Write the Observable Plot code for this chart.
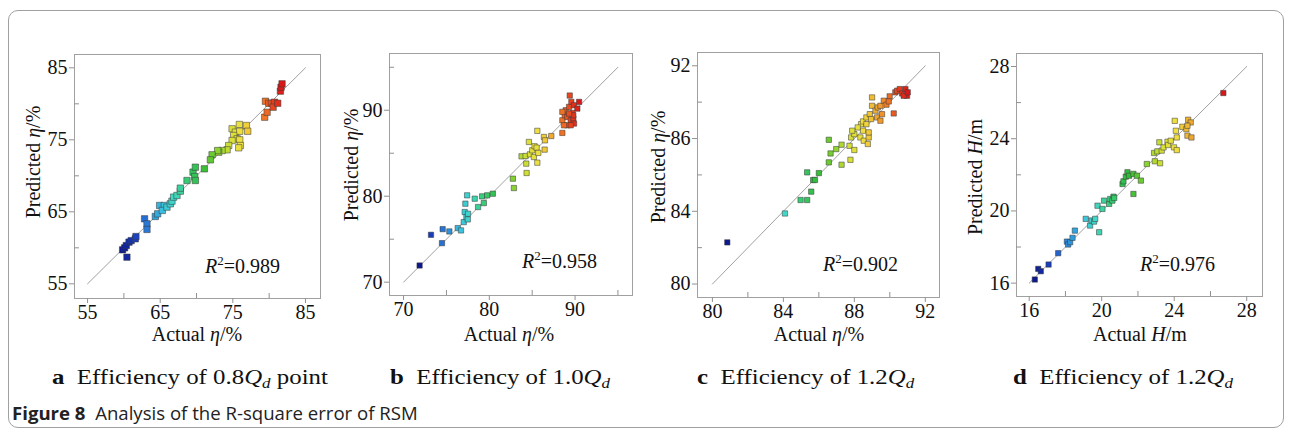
<!DOCTYPE html>
<html><head><meta charset="utf-8">
<script src="https://cdn.jsdelivr.net/npm/d3@7"></script>
<script src="https://cdn.jsdelivr.net/npm/@observablehq/plot@0.6"></script>
<style>
body{margin:0;background:#fff;}
#root{position:relative;width:1292px;height:432px;overflow:hidden;background:#fff;font-family:"Liberation Serif","Times New Roman",serif;}
#border{position:absolute;left:8px;top:10px;width:1276px;height:418px;border:1px solid #a0a0a0;border-radius:10px;box-sizing:border-box;}
.panel{position:absolute;top:30px;}
.sub{position:absolute;top:366px;font-size:22px;line-height:22px;color:#111;white-space:nowrap;transform:scaleX(1.13);transform-origin:0 50%;}
.sub i sub{font-size:15px;vertical-align:-4px;line-height:0;}
.fig{position:absolute;left:12px;top:404px;font-family:"Open Sans","Noto Sans",sans-serif;font-size:18.6px;line-height:18px;color:#222;white-space:nowrap;}
</style></head>
<body>
<div id="root">
  <div id="border"></div>
  <div class="sub" style="left:52px"><b>a</b>&nbsp; Efficiency of 0.8<i>Q<sub>d</sub></i> point</div>
  <div class="sub" style="left:390px"><b>b</b>&nbsp; Efficiency of 1.0<i>Q<sub>d</sub></i></div>
  <div class="sub" style="left:697px"><b>c</b>&nbsp; Efficiency of 1.2<i>Q<sub>d</sub></i></div>
  <div class="sub" style="left:1013px"><b>d</b>&nbsp; Efficiency of 1.2<i>Q<sub>d</sub></i></div>
  <div class="fig"><b>Figure 8</b>&nbsp; Analysis of the R-square error of RSM</div>
</div>
<script>
// ---------- data: [actual, predicted] ----------
const pointsA = [[59.82,59.72],[60.10,60.00],[60.33,60.32],[60.70,60.79],[61.00,61.00],[61.57,61.25],[61.66,61.57],[60.42,58.70],
[62.85,64.03],[63.18,63.33],[63.18,62.55],[64.33,64.35],[64.65,64.72],[64.92,65.88],[65.57,65.88],[65.29,65.19],[65.93,65.65],[66.39,66.11],[66.62,66.48],[66.85,67.04],[67.31,67.27],[67.77,67.87],[67.77,68.29],
[68.69,69.35],[69.52,70.51],[69.84,71.20],[69.75,69.90],[69.84,69.35],
[75.90,77.13],[74.90,76.53],[75.35,76.06],[75.95,76.19],[76.87,76.99],[77.05,76.19],[75.12,75.60],[75.59,75.14],[75.95,75.00],[74.90,74.90],[76.04,74.21],[75.81,73.89],[74.43,74.21],[74.21,73.61],[73.52,73.51],[73.05,73.28],[72.91,73.51],[72.14,72.92],[71.91,72.22],[71.08,70.97],
[79.49,80.36],[79.39,78.14],[79.72,78.83],[79.94,80.08],[80.31,80.08],[80.73,80.22],[80.55,79.53],[81.18,80.08],
[81.55,81.76],[81.64,82.31],[81.78,82.78]];
const pointsB = [[71.87,71.94],[73.20,75.51],[74.48,74.54],[74.56,76.17],[75.34,75.90],[76.32,76.29],[76.70,76.02],[77.02,76.99],[77.13,78.16],[77.21,79.13],[77.41,80.10],[77.33,77.57],[77.52,77.96],[77.49,77.30],[78.30,79.71],[78.69,78.74],[79.16,79.98],[79.36,79.20],[79.75,80.10],[80.41,80.29],[82.75,82.04],[82.87,80.95],
[83.76,84.64],[84.23,84.68],[84.31,83.79],[84.35,82.70],[84.62,86.31],[84.74,84.87],[85.01,85.34],[85.20,84.56],[85.28,85.81],[85.52,85.65],[85.60,87.60],[85.60,83.90],[85.71,85.03],[86.37,86.89],[86.45,85.42],[86.49,86.50],[87.23,87.00],
[89.38,91.71],[88.52,87.36],[88.52,88.83],[88.79,89.42],[88.91,90.00],[89.30,90.39],[89.57,90.97],[89.88,90.58],[90.47,90.97],[90.27,90.19],[89.69,89.69],[89.10,89.22],[89.49,88.83],[89.80,89.03],[89.88,88.45],[89.10,88.25],[89.49,88.25],[88.71,88.25],[89.80,89.42],[89.30,89.61],[88.52,89.81]];
const pointsC = [[80.84,82.29],[84.09,83.88],[84.97,84.62],[85.34,84.62],[85.57,85.08],[85.34,86.14],[85.68,85.72],[85.78,85.72],[86.00,86.10],[86.56,87.93],[86.56,86.69],[86.66,87.18],[86.98,87.42],[87.28,87.66],[87.28,86.56],[87.73,87.60],[87.78,86.83],[88.00,87.37],
[87.82,88.06],[88.00,88.24],[88.34,88.06],[88.49,88.43],[88.53,87.88],[88.76,87.70],[88.81,88.06],[88.81,88.34],[88.38,88.79],[88.49,88.94],[88.68,89.16],[88.87,89.34],[89.00,89.80],[89.00,90.26],[89.19,89.53],[89.28,89.16],[89.47,88.98],[89.56,89.34],[89.32,89.71],[89.47,89.80],[89.66,90.08],[89.81,89.86],[89.99,90.32],[89.94,90.04],[90.22,89.38],[90.31,90.54],[90.41,90.63],[90.56,90.72],[90.69,90.48],[90.88,90.72],[90.97,90.35],[90.78,90.35],[91.01,90.54],[88.68,88.79],[88.94,89.07],[88.19,88.61],[87.88,88.43]];
const pointsD = [[16.31,16.20],[16.50,16.79],[16.64,16.66],[17.07,17.03],[17.60,17.66],[18.08,18.30],[18.15,18.14],[18.26,18.27],[18.39,18.51],[18.52,18.91],[19.12,19.56],[19.36,19.19],[19.44,19.47],[19.58,19.41],[19.64,19.56],[19.77,20.29],[19.86,18.82],[20.04,20.11],[20.13,20.57],[20.41,20.39],[20.47,20.66],[20.65,20.79],[20.59,20.57],[20.69,20.72],
[21.15,21.49],[21.20,21.64],[21.33,21.90],[21.42,22.14],[21.51,21.95],[21.75,22.05],[21.75,20.94],[21.94,21.95],[22.16,21.68],[22.49,22.60],[22.89,23.21],[22.93,22.75],[23.07,23.30],[23.22,22.64],[23.18,23.80],[23.31,23.34],[23.41,23.52],[23.63,23.83],[23.66,23.65],[23.81,23.89],[23.99,23.52],
[24.03,24.99],[24.09,24.44],[24.14,24.07],[24.14,23.37],[24.45,24.66],[24.67,24.53],[24.73,24.17],[24.77,25.05],[24.91,24.90],[24.95,24.07],[24.73,24.72],[26.71,26.53]];

// ---------- ticks, diagonals, labels ----------
const ticksA = [55,65,75,85], minorA = [60,70,80], diagA = [55,85];
const ticksB = [70,80,90], minorB = [75,85,95], diagB = [70,95];
const ticksC = [80,84,88,92], minorC = [82,86,90], diagC = [80,92];
const tickLabelsCy = ["80","84","86","92"];
const ticksD = [16,20,24,28], minorD = [18,22,26], diagD = [16,28];
const r2Labels = ["0.989","0.958","0.902","0.976"];

// jet-like colour ramp
const jetStops = [0,0.08,0.16,0.25,0.32,0.40,0.50,0.60,0.68,0.75,0.82,0.88,0.94,1];
const jetColors = ["#0c1890","#1a40c0","#2a80d8","#38c0e0","#40d8c8","#38cc78","#30bc38","#90d430","#d8e038","#f0e040","#f0b030","#f08028","#e84820","#d81818"];
const jet = d3.scaleLinear().domain(jetStops).range(jetColors).interpolate(d3.interpolateRgb).clamp(true);

const serif = '"Liberation Serif","Times New Roman",serif';
const root = document.getElementById("root");

function panel(cfg) {
  const data = cfg.points.map(([a, p]) => ({a, p}));
  const [lo, hi] = cfg.diag;
  const yFmt = cfg.yLabels ? (d => cfg.yLabels[cfg.ticks.indexOf(d)]) : (d => String(d));
  const txt = {fontFamily: serif, fontSize: 20};
  const plot = Plot.plot({
    width: cfg.width, height: 320,
    marginLeft: cfg.ml, marginRight: cfg.mr, marginTop: cfg.mt, marginBottom: cfg.mb,
    style: {fontFamily: serif, fontSize: "20px", color: "#111", background: "transparent"},
    x: {domain: cfg.xd},
    y: {domain: cfg.yd},
    color: {type: "linear", interpolate: t => jet(t)},
    marks: [
      Plot.frame({stroke: "#a0a0a0"}),
      Plot.line([[lo, lo], [hi, hi]], {stroke: "#a0a0a0", strokeWidth: 1}),
      Plot.dot(data, {x: "a", y: "p", fill: "a", symbol: "square", r: cfg.r, stroke: "#3a3a3a", strokeWidth: 0.7, strokeOpacity: 0.75}),
      Plot.axisX(cfg.ticks, {...txt, tickSize: 5, tickPadding: 1, stroke: "#909090", fill: "#111", label: null, tickFormat: d => String(d)}),
      Plot.axisX(cfg.minor, {tickSize: -5, stroke: "#909090", label: null, tickFormat: () => ""}),
      Plot.axisY(cfg.ticks, {...txt, tickSize: 5, tickPadding: 2, stroke: "#909090", fill: "#111", label: null, tickFormat: yFmt}),
      Plot.axisY(cfg.minor, {tickSize: -5, stroke: "#909090", label: null, tickFormat: () => ""})
    ]
  });
  const svg = d3.select(plot);
  const font = g => g.attr("font-family", serif).style("font-family", serif).attr("font-size", 20).attr("fill", "#111");
  // y label
  const yl = svg.append("text").call(font)
    .attr("transform", `translate(${cfg.yl[0]},${cfg.yl[1]}) rotate(-90)`)
    .attr("text-anchor", "middle").attr("dominant-baseline", "middle");
  yl.append("tspan").text("Predicted ");
  yl.append("tspan").attr("font-style", "italic").text(cfg.sym);
  yl.append("tspan").text(cfg.unit);
  // x label
  const xl = svg.append("text").call(font)
    .attr("x", cfg.xl[0]).attr("y", cfg.xl[1])
    .attr("text-anchor", "middle").attr("dominant-baseline", "middle");
  xl.append("tspan").text("Actual ");
  xl.append("tspan").attr("font-style", "italic").text(cfg.sym);
  xl.append("tspan").text(cfg.unit);
  // R^2
  const rt = svg.append("text").call(font).attr("text-anchor", "start").attr("x", cfg.r2[0]).attr("y", cfg.r2[1]);
  rt.append("tspan").attr("font-style", "italic").text("R");
  rt.append("tspan").attr("font-size", 13).attr("dy", -8).text("2");
  rt.append("tspan").attr("dy", 8).text("=" + cfg.r2text);

  const div = document.createElement("div");
  div.className = "panel";
  div.style.left = cfg.left + "px";
  div.style.width = cfg.width + "px";
  div.appendChild(plot);
  root.appendChild(div);
}

panel({points: pointsA, ticks: ticksA, minor: minorA, diag: diagA, r: 3.6,
  left: 0, width: 330, ml: 74, mr: 10, mt: 24, mb: 52,
  xd: [53.2, 87.07], yd: [52.96, 86.85], sym: "η", unit: "/%",
  yl: [35, 132], xl: [197, 306], r2: [205, 243], r2text: r2Labels[0]});
panel({points: pointsB, ticks: ticksB, minor: minorB, diag: diagB, r: 3.0,
  left: 335, width: 305, ml: 54, mr: 8, mt: 23, mb: 55,
  xd: [68.36, 96.7], yd: [68.45, 96.6], sym: "η", unit: "/%",
  yl: [18, 135], xl: [174, 306], r2: [187, 238], r2text: r2Labels[1]});
panel({points: pointsC, ticks: ticksC, minor: minorC, diag: diagC, r: 3.0, yLabels: tickLabelsCy,
  left: 645, width: 305, ml: 52, mr: 11, mt: 22, mb: 53,
  xd: [79.16, 92.8], yd: [79.26, 92.73], sym: "η", unit: "/%",
  yl: [15, 137], xl: [174, 306], r2: [178, 241], r2text: r2Labels[2]});
panel({points: pointsD, ticks: ticksD, minor: minorD, diag: diagD, r: 3.0,
  left: 960, width: 315, ml: 56, mr: 13, mt: 23, mb: 54,
  xd: [15.3, 28.87], yd: [15.26, 28.72], sym: "H", unit: "/m",
  yl: [17, 147], xl: [180, 306], r2: [180, 241], r2text: r2Labels[3]});
</script>
</body></html>
